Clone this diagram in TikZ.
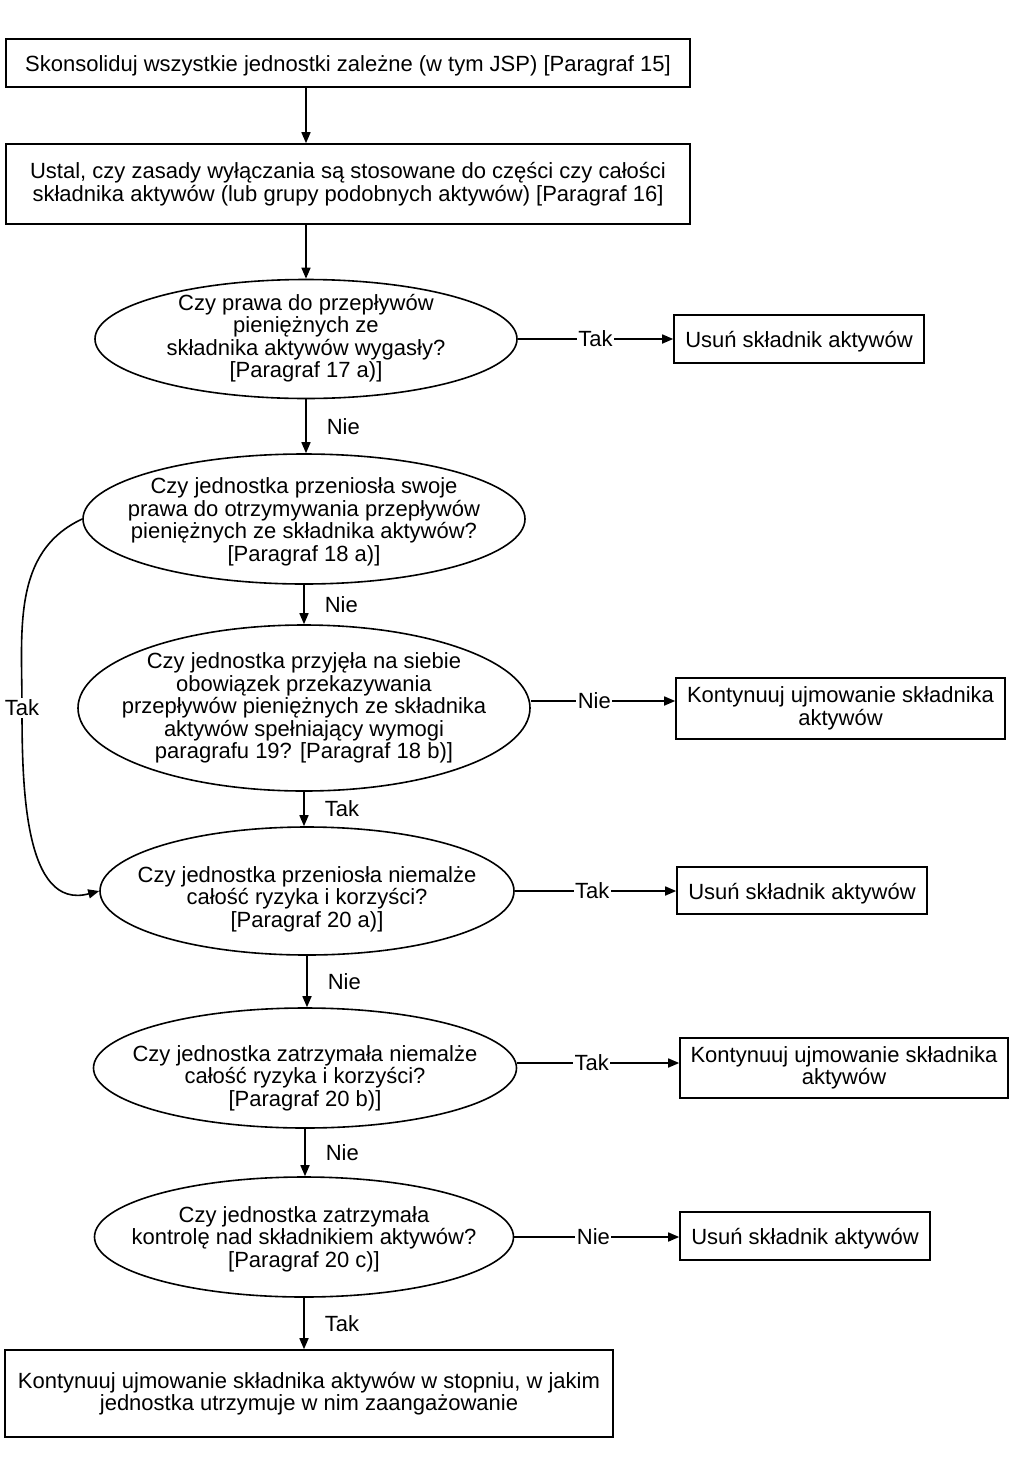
\documentclass[tikz,border=0pt]{standalone}
\usepackage{fontspec}
\setmainfont{Liberation Sans}
\usetikzlibrary{shapes.geometric,arrows.meta}
\begin{document}
\begin{tikzpicture}[x=1pt,y=-1pt,
  every node/.style={font=\fontsize{22}{22.5}\selectfont},
  box/.style={draw, line width=1.6pt, inner sep=0, align=center},
  sbox/.style={draw, line width=1.6pt, inner sep=0, text height=20pt, text depth=3pt},
  ell/.style={draw, ellipse, line width=1.6pt, inner sep=0},
  txt/.style={align=center, inner sep=0},
  arr/.style={line width=1.6pt, -{Triangle[length=11pt,width=9pt]}},
  hl/.style={fill=white, inner sep=1.5pt},
  vl/.style={anchor=west, inner sep=0, xshift=20pt}]
\useasboundingbox (0,0) rectangle (1024,1457);

% boxes
\node[sbox, minimum width=684, minimum height=48] (b1) at (348,63)
  {Skonsoliduj wszystkie jednostki zależne (w tym JSP) [Paragraf 15]};
\node[box, minimum width=684, minimum height=80] (b2) at (348,184)
  {Ustal, czy zasady wyłączania są stosowane do części czy całości\\składnika aktywów (lub grupy podobnych aktywów) [Paragraf 16]};

% ellipses
\node[ell, minimum width=422, minimum height=119] (e1) at (306,339) {};
\node[txt] (e1t) at (306,338) {Czy prawa do przepływów\\pieniężnych ze\\składnika aktywów wygasły?\\{}[Paragraf 17 a)]};
\node[ell, minimum width=442, minimum height=130] (e2) at (304,519) {};
\node[txt] (e2t) at (304,522) {Czy jednostka przeniosła swoje\\prawa do otrzymywania przepływów\\pieniężnych ze składnika aktywów?\\{}[Paragraf 18 a)]};
\node[ell, minimum width=452, minimum height=166] (e3) at (304,708) {};
\node[txt] (e3t) at (304,708) {Czy jednostka przyjęła na siebie\\obowiązek przekazywania\\przepływów pieniężnych ze składnika\\aktywów spełniający wymogi\\paragrafu 19? [Paragraf 18 b)]};
\node[ell, minimum width=414, minimum height=128] (e4) at (307,891) {};
\node[txt] (e4t) at (307,899) {Czy jednostka przeniosła niemalże\\całość ryzyka i korzyści?\\{}[Paragraf 20 a)]};
\node[ell, minimum width=423, minimum height=120] (e5) at (305,1068) {};
\node[txt] (e5t) at (305,1078) {Czy jednostka zatrzymała niemalże\\całość ryzyka i korzyści?\\{}[Paragraf 20 b)]};
\node[ell, minimum width=419, minimum height=120] (e6) at (304,1237) {};
\node[txt] (e6t) at (304,1239) {Czy jednostka zatrzymała\\kontrolę nad składnikiem aktywów?\\{}[Paragraf 20 c)]};

% right boxes
\node[sbox, minimum width=250, minimum height=48] (u1) at (799,339) {Usuń składnik aktywów};
\node[box, minimum width=329, minimum height=61] (k1) at (840.5,708.5) {Kontynuuj ujmowanie składnika\\aktywów};
\node[sbox, minimum width=250, minimum height=47] (u2) at (802,890.5) {Usuń składnik aktywów};
\node[box, minimum width=328, minimum height=60] (k2) at (844,1068) {Kontynuuj ujmowanie składnika\\aktywów};
\node[sbox, minimum width=250, minimum height=48] (u3) at (805,1236) {Usuń składnik aktywów};

% final box
\node[box, minimum width=608, minimum height=87] (f) at (309,1393.5)
  {Kontynuuj ujmowanie składnika aktywów w stopniu, w jakim\\jednostka utrzymuje w nim zaangażowanie};

% vertical arrows
\draw[arr] (e1.north |- b1.south) -- (e1.north |- b2.north);
\draw[arr] (e1.north |- b2.south) -- (e1.north);
\draw[arr] (e1.south) -- node[vl]{Nie} (e1.south |- e2.north);
\draw[arr] (e2.south) -- node[vl]{Nie} (e2.south |- e3.north);
\draw[arr] (e3.south) -- node[vl]{Tak} (e3.south |- e4.north);
\draw[arr] (e4.south) -- node[vl]{Nie} (e4.south |- e5.north);
\draw[arr] (e5.south) -- node[vl]{Nie} (e5.south |- e6.north);
\draw[arr] (e6.south) -- node[vl]{Tak} (e6.south |- f.north);

% horizontal arrows
\draw[arr] (e1.east) -- node[hl]{Tak} (e1.east -| u1.west);
\draw[arr] ([yshift=7pt]e3.east) -- node[hl, pos=0.44]{Nie} ([yshift=7pt]e3.east -| k1.west);
\draw[arr] (e4.east) -- node[hl, pos=0.48]{Tak} (e4.east -| u2.west);
\draw[arr] ([yshift=5pt]e5.east) -- node[hl, pos=0.46]{Tak} ([yshift=5pt]e5.east -| k2.west);
\draw[arr] (e6.east) -- node[hl, pos=0.48]{Nie} (e6.east -| u3.west);

% curved Tak
\coordinate (c1) at (22,708);
\draw[arr] (e2.west) to[out=205, in=90] (c1) to[out=-90, in=195] (e4.west);
\node[hl] (tk) at (c1) {Tak};
\end{tikzpicture}
\end{document}
